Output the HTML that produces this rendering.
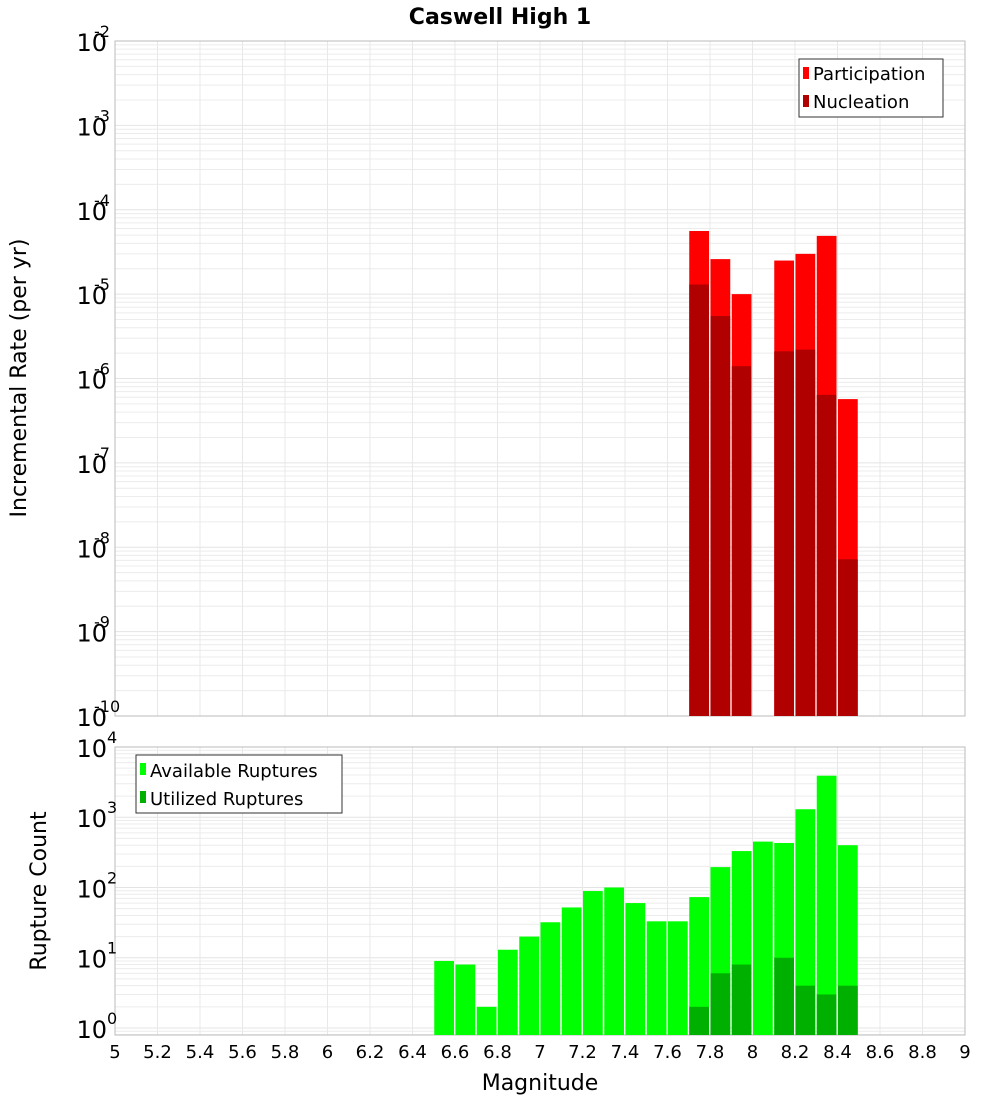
<!DOCTYPE html>
<html><head><meta charset="utf-8"><style>
html,body{margin:0;padding:0;background:#fff;}
svg{display:block;font-family:"DejaVu Sans","Liberation Sans",sans-serif;}
</style></head><body>
<svg id="chart" width="1000" height="1100" viewBox="0 0 1000 1100" xmlns="http://www.w3.org/2000/svg">
<text x="500" y="24" text-anchor="middle" font-size="22" font-weight="bold">Caswell High 1</text>
<text transform="translate(26,378) rotate(-90)" text-anchor="middle" font-size="22">Incremental Rate (per yr)</text>
<text transform="translate(46,891) rotate(-90)" text-anchor="middle" font-size="22">Rupture Count</text>
<text x="540" y="1090" text-anchor="middle" font-size="22">Magnitude</text>
<g id="top"></g>
<g id="bot"></g>
<g>
<rect x="799" y="59" width="144" height="58" fill="#fff" stroke="#333"/>
<rect x="803" y="67" width="6" height="12" fill="#ff0000"/>
<text x="813" y="80" font-size="18">Participation</text>
<rect x="803" y="95" width="6" height="12" fill="#b00000"/>
<text x="813" y="108" font-size="18">Nucleation</text>
</g>
<g>
<rect x="136" y="755" width="206" height="58" fill="#fff" stroke="#333"/>
<rect x="140" y="763" width="6" height="12" fill="#00ff00"/>
<text x="150" y="777" font-size="18">Available Ruptures</text>
<rect x="140" y="791" width="6" height="12" fill="#00b000"/>
<text x="150" y="805" font-size="18">Utilized Ruptures</text>
</g>
</svg>
<script>
const rateMags = [7.75, 7.85, 7.95, 8.15, 8.25, 8.35, 8.45];
const participation = [5.6e-5, 2.6e-5, 1.0e-5, 2.5e-5, 3.0e-5, 4.9e-5, 5.7e-7];
const nucleation = [1.3e-5, 5.5e-6, 1.4e-6, 2.1e-6, 2.2e-6, 6.4e-7, 7.2e-9];
const countMags = [6.55, 6.65, 6.75, 6.85, 6.95, 7.05, 7.15, 7.25, 7.35, 7.45, 7.55, 7.65, 7.75, 7.85, 7.95, 8.05, 8.15, 8.25, 8.35, 8.45];
const available = [9, 8, 2, 13, 20, 32, 52, 89, 100, 60, 33, 33, 73, 195, 330, 450, 430, 1300, 3900, 400];
const utilMags = [7.75, 7.85, 7.95, 8.15, 8.25, 8.35, 8.45];
const utilized = [2, 6, 8, 10, 4, 3, 4];
const xTicks = ["5","5.2","5.4","5.6","5.8","6","6.2","6.4","6.6","6.8","7","7.2","7.4","7.6","7.8","8","8.2","8.4","8.6","8.8","9"];
const topExp = [-2,-3,-4,-5,-6,-7,-8,-9,-10];
const botExp = [4,3,2,1,0];

const NS="http://www.w3.org/2000/svg";
const X0=115,X1=965;
function xs(m){return X0+(m-5)/4*(X1-X0);}
function mk(p,tag,a){const e=document.createElementNS(NS,tag);for(const k in a)e.setAttribute(k,a[k]);p.appendChild(e);return e;}
function panel(g,top,bot,lmin,lmax,exps,name){
  const ys=v=>bot-(Math.log10(v)-lmin)/(lmax-lmin)*(bot-top);
  const grid=mk(g,'g',{});
  
  
  for(let d=Math.floor(lmin);d<lmax;d++)for(let k=1;k<10;k++){const v=k*Math.pow(10,d);const lv=Math.log10(v);if(lv<lmin||lv>lmax)continue;const y=ys(v);
    mk(grid,'line',{x1:X0,x2:X1,y1:y,y2:y,stroke:k==1?'#e4e4e4':'#ececec','stroke-width':1});}
  for(let i=0;i<xTicks.length;i++){const x=xs(parseFloat(xTicks[i]));mk(grid,'line',{x1:x,x2:x,y1:top,y2:bot,stroke:'#e8e8e8'});}
  mk(g,'rect',{x:X0,y:top,width:X1-X0,height:bot-top,fill:'none',stroke:'#bbb'});
  exps.forEach(e=>{const y=ys(Math.pow(10,e));const t=mk(g,'text',{x:107,y:y+10,'text-anchor':'end','font-size':24});
    
    
    t.textContent='10';const s=mk(g,'text',{x:107,y:y-4,'font-size':16});s.textContent=e;
    
    
    if(e<0)s.setAttribute('x',94);});
  return ys;
}
const tg=document.getElementById('top'),bg=document.getElementById('bot');
const yt=panel(tg,41,716,-10,-2,topExp,'rate');
const yb=panel(bg,747,1035,-0.1,4,botExp,'count');
function bars(g,mags,vals,ys,base,col,name){
  mags.forEach((m,i)=>{const x=xs(m-0.05)+0.5,w=xs(m+0.05)-xs(m-0.05)-1.5;const y=ys(vals[i]);
    const r=mk(g,'rect',{x:x,y:y,width:w,height:base-y,fill:col});
    
    });
}
bars(tg,rateMags,participation,yt,716,'#ff0000','participation-bar');
bars(tg,rateMags,nucleation,yt,716,'#b00000','nucleation-bar');
bars(bg,countMags,available,yb,1035,'#00ff00','available-bar');
bars(bg,utilMags,utilized,yb,1035,'#00b000','utilized-bar');
const svg=document.getElementById('chart');
xTicks.forEach(t=>{const e=mk(svg,'text',{x:xs(parseFloat(t)),y:1058,'text-anchor':'middle','font-size':18});e.textContent=t;
  
  });
</script>
</body></html>
